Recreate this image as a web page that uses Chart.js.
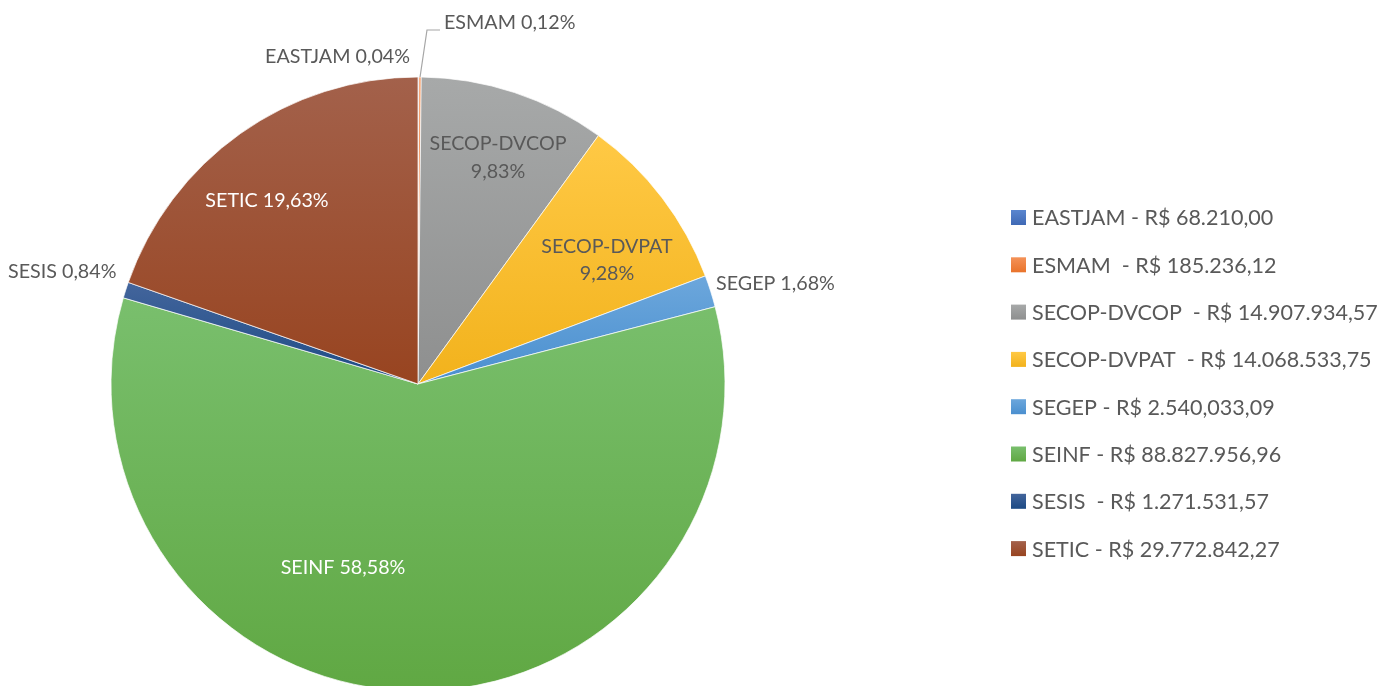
<!DOCTYPE html>
<html><head><meta charset="utf-8">
<script src="https://cdn.jsdelivr.net/npm/chart.js@4.4.1/dist/chart.umd.min.js"></script>
<style>html,body{margin:0;padding:0;overflow:hidden;background:#fff;width:1395px;height:686px}canvas{display:block}</style>
</head><body>
<canvas id="c" width="1395" height="700"></canvas>
<script>
const categories = ['EASTJAM','ESMAM','SECOP-DVCOP','SECOP-DVPAT','SEGEP','SEINF','SESIS','SETIC'];
const values = [68210.00,185236.12,14907934.57,14068533.75,2540033.09,88827956.96,1271531.57,29772842.27];
const legendLabels = ['EASTJAM - R$ 68.210,00','ESMAM  - R$ 185.236,12','SECOP-DVCOP  - R$ 14.907.934,57','SECOP-DVPAT  - R$ 14.068.533,75','SEGEP - R$ 2.540,033,09','SEINF - R$ 88.827.956,96','SESIS  - R$ 1.271.531,57','SETIC - R$ 29.772.842,27'];
const topColors    = ['#5a86cf','#f49258','#a7a9a9','#ffc945','#6ca7dc','#79bf6d','#43659c','#a3614b'];
const bottomColors = ['#3f69b5','#e9732b','#8e8f8f','#f2b21c','#4a8fcf','#60a843','#1c4a84','#984420'];

const FONT = 'Lato, "Open Sans", sans-serif';
const PIE_R = 307;
const TEXT_GRAY = '#595959';
const total = values.reduce((a,b)=>a+b,0);
const pctText = v => (v/total*100).toFixed(2).replace('.',',') + '%';

// label layout (positions are styling only)
const labelLayout = [
  {x:410, y:57, align:'right', lines:i=>[categories[i]+' '+pctText(values[i])], color:TEXT_GRAY},
  {x:444, y:23, align:'left', lines:i=>[categories[i]+' '+pctText(values[i])], color:TEXT_GRAY, leader:[[427,30],[440,30]]},
  {x:498, y:144, align:'center', lines:i=>[categories[i], pctText(values[i])], color:TEXT_GRAY, lh:28},
  {x:607, y:247, align:'center', lines:i=>[categories[i], pctText(values[i])], color:TEXT_GRAY, lh:27},
  {x:716, y:284, align:'left', lines:i=>[categories[i]+' '+pctText(values[i])], color:TEXT_GRAY},
  {x:343, y:568, align:'center', lines:i=>[categories[i]+' '+pctText(values[i])], color:'#ffffff'},
  {x:8, y:272, align:'left', lines:i=>[categories[i]+' '+pctText(values[i])], color:TEXT_GRAY},
  {x:267, y:201, align:'center', lines:i=>[categories[i]+' '+pctText(values[i])], color:'#ffffff'}
];

function fitSize(ctx, text, width){
  ctx.font = '20px ' + FONT;
  return 20 * width / ctx.measureText(text).width;
}

function sliceGradient(chart, i){
  const ca = chart.chartArea;
  if (!ca) return bottomColors[i];
  const cx=(ca.left+ca.right)/2, cy=(ca.top+ca.bottom)/2, r=PIE_R;
  const cum = values.slice(0,i).reduce((a,b)=>a+b,0);
  const a0 = -Math.PI/2 + 2*Math.PI*cum/total, a1 = a0 + 2*Math.PI*values[i]/total;
  const ys=[cy, cy+r*Math.sin(a0), cy+r*Math.sin(a1)];
  for (const t of [-Math.PI/2, Math.PI/2, 3*Math.PI/2]) if (t>=a0 && t<=a1) ys.push(cy+r*Math.sin(t));
  const y0=Math.min(...ys), y1=Math.max(...ys);
  const g = chart.ctx.createLinearGradient(0,y0,0,Math.max(y1,y0+1));
  g.addColorStop(0, topColors[i]); g.addColorStop(1, bottomColors[i]);
  return g;
}

const labelsPlugin = {
  id:'labels',
  afterDatasetsDraw(chart){
    const ctx = chart.ctx;
    const meta = chart.getDatasetMeta(0);
    const size = fitSize(ctx, 'EASTJAM 0,04%', 145);
    ctx.save();
    meta.data.forEach((arc,i)=>{
      const L = labelLayout[i];
      if (L.leader){
        const mid = (arc.startAngle+arc.endAngle)/2;
        ctx.beginPath();
        ctx.moveTo(arc.x + arc.outerRadius*Math.cos(mid), arc.y + arc.outerRadius*Math.sin(mid));
        L.leader.forEach(p=>ctx.lineTo(p[0],p[1]));
        ctx.strokeStyle='#a6a6a6'; ctx.lineWidth=1.2; ctx.stroke();
      }
      ctx.font = size.toFixed(2)+'px '+FONT;
      ctx.fillStyle = L.color; ctx.textAlign = L.align; ctx.textBaseline='middle';
      const lines = L.lines(i);
      lines.forEach((t,k)=>ctx.fillText(t, L.x, L.y + k*(L.lh||0)));
    });
    ctx.restore();
  },
  afterDraw(chart){
    const ctx = chart.ctx;
    const size = fitSize(ctx, legendLabels[2], 346);
    ctx.save();
    const x0 = 1011, y0 = 217.5, step = 47.3, box = 15;
    legendLabels.forEach((t,i)=>{
      const y = y0 + i*step;
      const g = ctx.createLinearGradient(0,y-box/2,0,y+box/2);
      g.addColorStop(0, topColors[i]); g.addColorStop(1, bottomColors[i]);
      ctx.fillStyle = g;
      ctx.fillRect(x0, y-box/2, box, box);
      ctx.font = size.toFixed(2)+'px '+FONT;
      ctx.fillStyle = TEXT_GRAY; ctx.textAlign='left'; ctx.textBaseline='middle';
      ctx.fillText(t, x0+21, y+1);
    });
    ctx.restore();
  }
};

new Chart(document.getElementById('c'), {
  type:'pie',
  data:{ labels:categories, datasets:[{ data:values,
    backgroundColor: c => sliceGradient(c.chart, c.dataIndex),
    borderColor:'rgba(255,255,255,0.7)', borderWidth:1 }]},
  options:{
    responsive:false, animation:false, radius:PIE_R,
    layout:{padding:{left:111,right:670,top:77,bottom:9}},
    plugins:{legend:{display:false}, tooltip:{enabled:false}}
  },
  plugins:[labelsPlugin]
});
</script>
</body></html>
